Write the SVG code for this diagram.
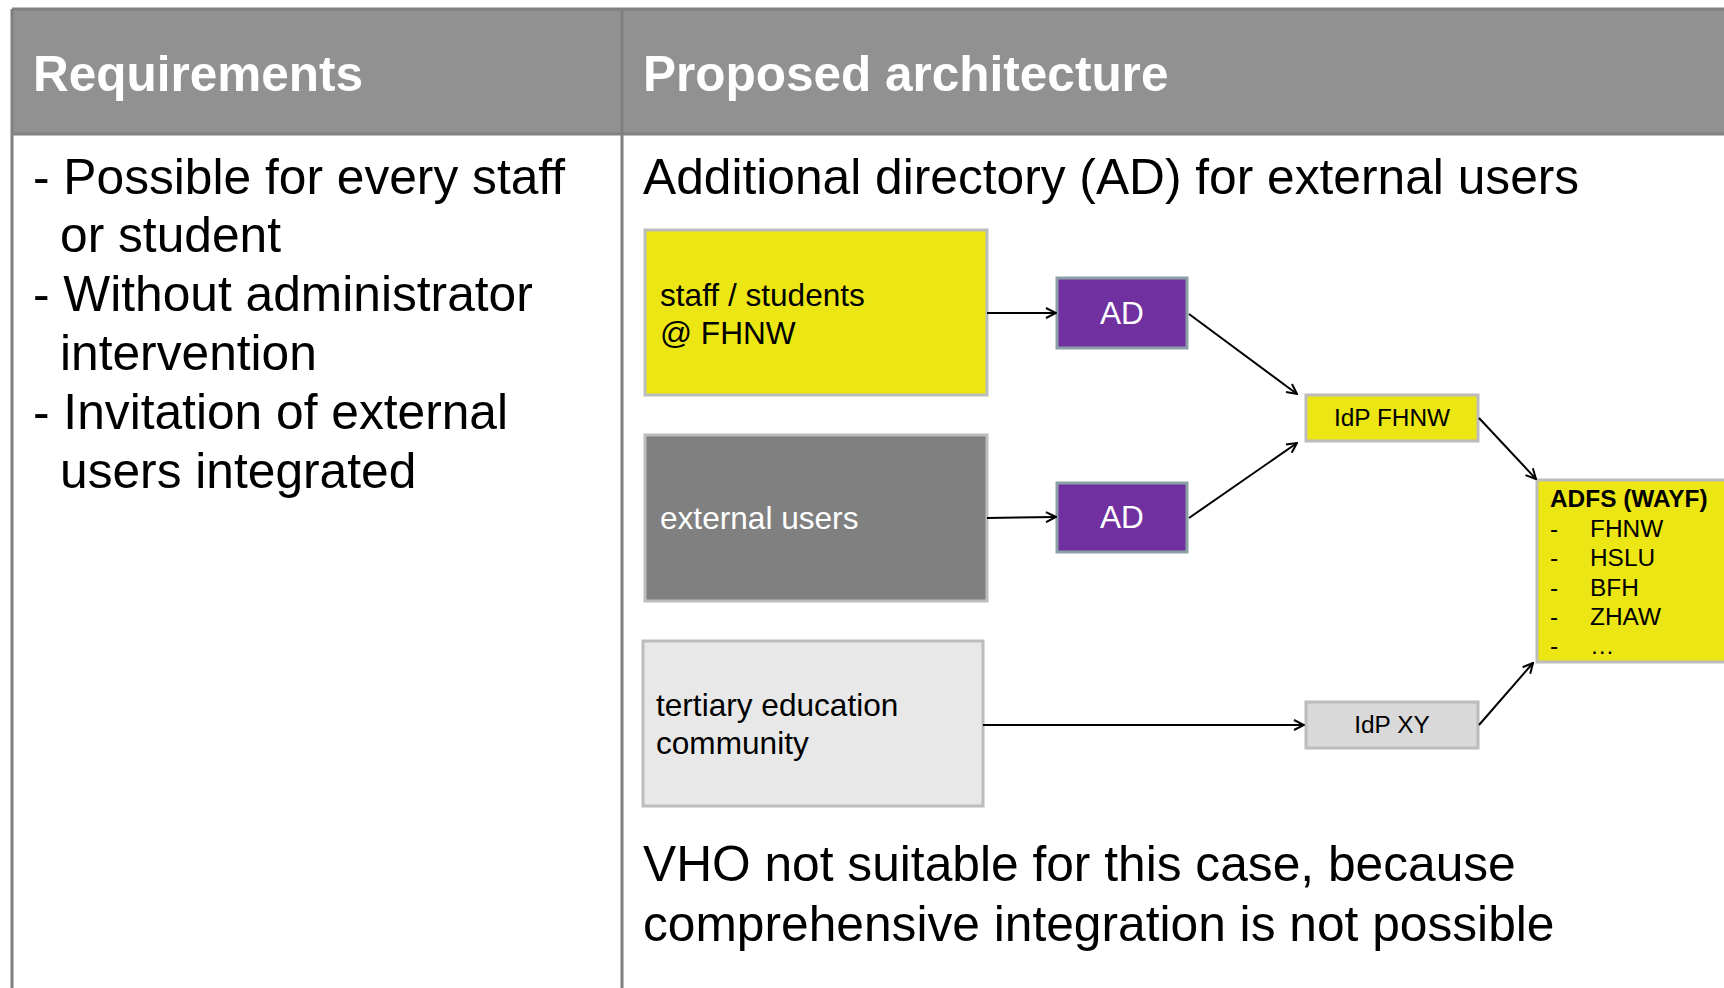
<svg xmlns="http://www.w3.org/2000/svg" width="1724" height="988" viewBox="0 0 1724 988">
<defs>
<marker id="arr" viewBox="0 0 12 12" refX="11" refY="6" markerWidth="12" markerHeight="12" markerUnits="userSpaceOnUse" orient="auto">
<path d="M1,1 L11,6 L1,11" fill="none" stroke="#000" stroke-width="2"/>
</marker>
<style>
.hdr{font-family:"Liberation Sans",Arial,sans-serif;font-weight:bold;font-size:49.5px;fill:#fff}
.big{font-family:"Liberation Sans",Arial,sans-serif;font-size:49.7px;fill:#000}
.mid{font-family:"Liberation Sans",Arial,sans-serif;font-size:31.6px}
.sm{font-family:"Liberation Sans",Arial,sans-serif;font-size:24.4px;fill:#000}
.grid{stroke:#808080;stroke-width:3;fill:none}
.conn{stroke:#000;stroke-width:2;fill:none;marker-end:url(#arr)}
</style>
</defs>
<rect width="1724" height="988" fill="#fff"/>
<g id="table">
<rect x="12" y="9" width="1714" height="125" fill="#919191"/>
<line class="grid" x1="12" y1="9" x2="1724" y2="9"/>
<line class="grid" x1="12" y1="134" x2="1724" y2="134"/>
<line class="grid" x1="12" y1="9" x2="12" y2="988"/>
<line class="grid" x1="622" y1="9" x2="622" y2="988"/>
<text class="hdr" x="33" y="91">Requirements</text>
<text class="hdr" x="643" y="91">Proposed architecture</text>
</g>
<g id="requirements">
<text class="big" x="33" y="194">- Possible for every staff</text>
<text class="big" x="60" y="252">or student</text>
<text class="big" x="33" y="311">- Without administrator</text>
<text class="big" x="60" y="370">intervention</text>
<text class="big" x="33" y="429">- Invitation of external</text>
<text class="big" x="60" y="488">users integrated</text>
</g>
<g id="title-architecture">
<text class="big" x="643" y="194">Additional directory (AD) for external users</text>
</g>
<g id="staff">
<rect x="645" y="230" width="342" height="165" fill="#ece615" stroke="#bcbcbc" stroke-width="3"/>
<text class="mid" x="660" y="306" fill="#000">staff / students</text>
<text class="mid" x="660" y="344" fill="#000">@ FHNW</text>
</g>
<g id="external">
<rect x="645" y="435" width="342" height="166" fill="#808080" stroke="#bcbcbc" stroke-width="3"/>
<text class="mid" x="660" y="529" fill="#fff">external users</text>
</g>
<g id="tertiary">
<rect x="643" y="641" width="340" height="165" fill="#e8e8e8" stroke="#bcbcbc" stroke-width="3"/>
<text class="mid" x="656" y="716" fill="#000">tertiary education</text>
<text class="mid" x="656" y="754" fill="#000">community</text>
</g>
<g id="ad1">
<rect x="1057" y="278" width="130" height="70" fill="#7030a0" stroke="#8a9fa6" stroke-width="3"/>
<text class="mid" x="1122" y="324" fill="#fff" text-anchor="middle">AD</text>
</g>
<g id="ad2">
<rect x="1057" y="483" width="130" height="69" fill="#7030a0" stroke="#8a9fa6" stroke-width="3"/>
<text class="mid" x="1122" y="528" fill="#fff" text-anchor="middle">AD</text>
</g>
<g id="idp-fhnw">
<rect x="1306" y="395" width="172" height="46" fill="#ece615" stroke="#bcbcbc" stroke-width="3"/>
<text class="sm" x="1392" y="426" text-anchor="middle">IdP FHNW</text>
</g>
<g id="idp-xy">
<rect x="1306" y="702" width="172" height="46" fill="#d9d9d9" stroke="#bcbcbc" stroke-width="3"/>
<text class="sm" x="1392" y="733" text-anchor="middle">IdP XY</text>
</g>
<g id="adfs">
<rect x="1537" y="480" width="200" height="182" fill="#ece615" stroke="#bcbcbc" stroke-width="3"/>
<text class="sm" x="1550" y="507" font-weight="bold">ADFS (WAYF)</text>
<text class="sm" x="1550" y="537">-</text><text class="sm" x="1590" y="537">FHNW</text>
<text class="sm" x="1550" y="566">-</text><text class="sm" x="1590" y="566">HSLU</text>
<text class="sm" x="1550" y="596">-</text><text class="sm" x="1590" y="596">BFH</text>
<text class="sm" x="1550" y="625">-</text><text class="sm" x="1590" y="625">ZHAW</text>
<text class="sm" x="1550" y="654">-</text><text class="sm" x="1590" y="654">…</text>
</g>
<g id="connectors">
<line class="conn" x1="987" y1="313" x2="1056" y2="313"/>
<line class="conn" x1="987" y1="518" x2="1056" y2="517"/>
<line class="conn" x1="1189" y1="314" x2="1297" y2="394"/>
<line class="conn" x1="1189" y1="518" x2="1297" y2="443"/>
<line class="conn" x1="1479" y1="418" x2="1536" y2="479"/>
<line class="conn" x1="983" y1="725" x2="1304" y2="725"/>
<line class="conn" x1="1479" y1="725" x2="1533" y2="663"/>
</g>
<g id="conclusion">
<text class="big" x="643" y="881">VHO not suitable for this case, because</text>
<text class="big" x="643" y="941">comprehensive integration is not possible</text>
</g>
</svg>
